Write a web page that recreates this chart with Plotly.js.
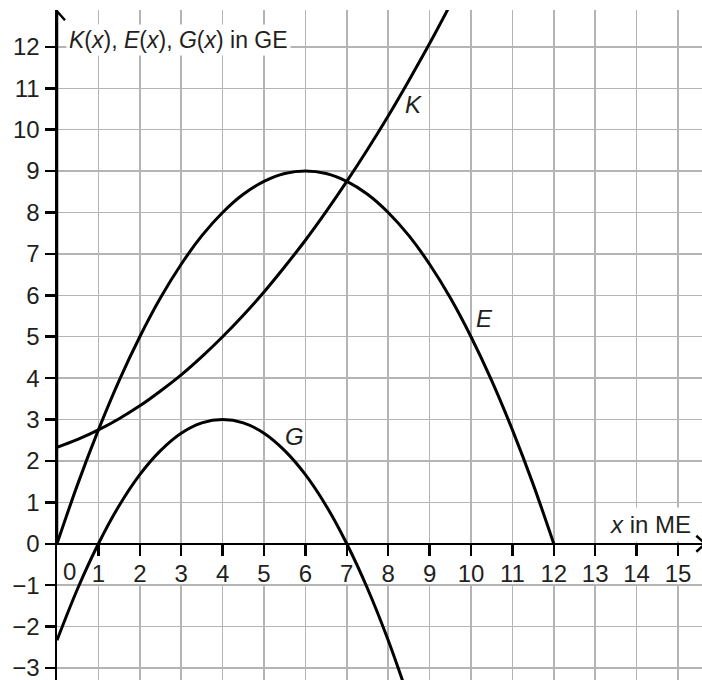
<!DOCTYPE html>
<html>
<head>
<meta charset="utf-8">
<script src="https://cdn.plot.ly/plotly-3.0.1.min.js"></script>
<style>html,body{margin:0;padding:0;background:#fff;}#chart{width:702px;height:680px;}</style>
</head>
<body>
<div id="chart"></div>
<script>
// Values
const xE = [0,0.5,1,1.5,2,2.5,3,3.5,4,4.5,5,5.5,6,6.5,7,7.5,8,8.5,9,9.5,10,10.5,11,11.5,12];
const yE = [0,1.44,2.75,3.94,5,5.94,6.75,7.44,8,8.44,8.75,8.94,9,8.94,8.75,8.44,8,7.44,6.75,5.94,5,3.94,2.75,1.44,0];

const xK = [0,0.5,1,1.5,2,2.5,3,3.5,4,4.5,5,5.5,6,6.5,7,7.5,8,8.5,9,9.5,10];
const yK = [2.33,2.52,2.75,3.02,3.33,3.69,4.08,4.52,5,5.52,6.08,6.69,7.33,8.02,8.75,9.52,10.33,11.19,12.08,13.02,14];

const xG = [0,0.5,1,1.5,2,2.5,3,3.5,4,4.5,5,5.5,6,6.5,7,7.5,8,8.5];
const yG = [-2.33,-1.08,0,0.92,1.67,2.25,2.67,2.92,3,2.92,2.67,2.25,1.67,0.92,0,-1.08,-2.33,-3.75];

const xTickVals = [1,2,3,4,5,6,7,8,9,10,11,12,13,14,15];
const yTickVals = [-3,-2,-1,0,1,2,3,4,5,6,7,8,9,10,11,12];

const curveLabels = [
  {name:'K', x:8.6, y:10.6},
  {name:'E', x:10.33, y:5.45},
  {name:'G', x:5.74, y:2.6}
];

const FONT = 'Liberation Sans, Arial, sans-serif';
const FS = 24;
const TXT = '#231f20';
const GRID = '#b4b4b4';

const xRange = [0, 15.58];
const yRange = [-3.29, 12.89];
const xAxisPos = (0 - yRange[0]) / (yRange[1] - yRange[0]);

function curve(x, y) {
  return {x:x, y:y, type:'scatter', mode:'lines', line:{color:'#000', width:3, shape:'spline'}, hoverinfo:'skip', showlegend:false};
}

const data = [curve(xE,yE), curve(xK,yK), curve(xG,yG)];

const annotations = curveLabels.map(c => ({
  x:c.x, y:c.y, xref:'x', yref:'y', text:'<i>'+c.name+'</i>', showarrow:false,
  font:{family:FONT, size:FS, color:TXT}
}));
annotations.push({
  x:0.22, y:12.17, xref:'x', yref:'y', xanchor:'left', yanchor:'middle',
  text:'<i>K</i>(<i>x</i>), <i>E</i>(<i>x</i>), <i>G</i>(<i>x</i>) in GE',
  showarrow:false, bgcolor:'#fff', borderpad:2, font:{family:FONT, size:23, color:TXT}
});
annotations.push({
  x:15.42, y:0.47, xref:'x', yref:'y', xanchor:'right', yanchor:'middle',
  text:'<i>x</i> in ME', showarrow:false, bgcolor:'#fff', borderpad:3,
  font:{family:FONT, size:FS, color:TXT}
});
annotations.push({
  x:0.31, y:-0.66, xref:'x', yref:'y', xanchor:'center', yanchor:'middle',
  text:'0', showarrow:false, font:{family:FONT, size:FS, color:TXT}
});

const shapes = [
  {type:'rect', xref:'x', yref:'y', x0:0, x1:16, y0:-0.97, y1:-0.03, fillcolor:'#fff', line:{width:0}, layer:'between'},
  {type:'path', xref:'x', yref:'y', xsizemode:'pixel', ysizemode:'pixel', xanchor:0, yanchor:12.86,
   path:'M -8,-9 L 0,0 L 8,-9', line:{color:'#000', width:2.5}},
  {type:'line', xref:'x', yref:'y', x0:0, x1:0, y0:0, y1:12.86, line:{color:'#000', width:2.5}},
  {type:'path', xref:'x', yref:'y', xsizemode:'pixel', ysizemode:'pixel', xanchor:15.66, yanchor:0,
   path:'M -9,8 L 0,0 L -9,-8', line:{color:'#000', width:2.5}}
];

const layout = {
  width:702, height:680,
  margin:{l:57, r:0, t:10, b:0, pad:0},
  paper_bgcolor:'#fff', plot_bgcolor:'#fff',
  showlegend:false,
  font:{family:FONT, size:FS, color:TXT},
  xaxis:{
    range:xRange, tickvals:xTickVals, ticktext:xTickVals.map(String),
    showgrid:true, gridcolor:GRID, gridwidth:1.5,
    zeroline:false, showline:true, linecolor:'#000', linewidth:2.5,
    ticks:'outside', ticklen:11, tickwidth:2.5, tickcolor:'#000',
    anchor:'free', position:xAxisPos, ticklabeloverflow:'allow', ticklabelstandoff:-3,
    tickfont:{family:FONT, size:FS, color:TXT}, fixedrange:true
  },
  yaxis:{
    range:yRange, tickvals:yTickVals, ticktext:yTickVals.map(v => v < 0 ? '\u2212' + Math.abs(v) : String(v)),
    showgrid:true, gridcolor:GRID, gridwidth:1.5,
    zeroline:false, showline:true, linecolor:'#000', linewidth:2.5,
    ticks:'outside', ticklen:10, tickwidth:2.5, tickcolor:'#000', ticklabeloverflow:'allow',
    tickfont:{family:FONT, size:FS, color:TXT}, fixedrange:true
  },
  annotations:annotations,
  shapes:shapes
};

Plotly.newPlot('chart', data, layout, {displayModeBar:false, staticPlot:true});
</script>
</body>
</html>
